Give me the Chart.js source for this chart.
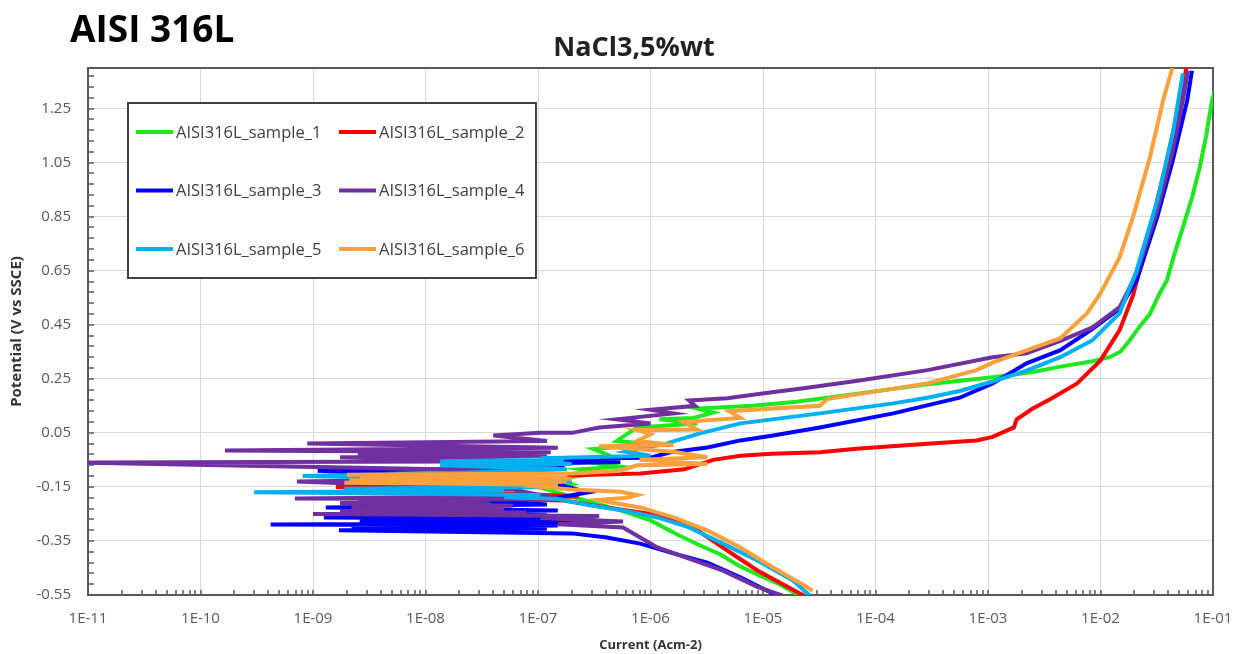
<!DOCTYPE html>
<html>
<head>
<meta charset="utf-8">
<title>AISI 316L - NaCl3,5%wt</title>
<script src="https://cdn.jsdelivr.net/npm/chart.js@4.4.0/dist/chart.umd.min.js"></script>
<style>
  body { margin: 0; background: #fff; }
  #wrap { position: relative; width: 1236px; height: 654px; }
  #mainTitle { position: absolute; left: 70px; top: 9px; font: bold 37px/1 'Open Sans', sans-serif; color: #000; white-space: nowrap; }
  #subTitle { position: absolute; left: 634px; top: 32px; transform: translateX(-50%); font: bold 27px/1 'Open Sans', sans-serif; color: #222; white-space: nowrap; }
</style>
</head>
<body>
<div id="wrap">
  <canvas id="polCurve" width="1236" height="654"></canvas>
  <div id="mainTitle">AISI 316L</div>
  <div id="subTitle">NaCl3,5%wt</div>
</div>
<script>
"use strict"

const sampleLabels = ['AISI316L_sample_1', 'AISI316L_sample_2', 'AISI316L_sample_3',
    'AISI316L_sample_4', 'AISI316L_sample_5', 'AISI316L_sample_6'];
const sampleColors = ['#1ee81e', '#ff0000', '#0000ff', '#7030a0', '#00b0f0', '#faa03c'];

const xTickLabels = ['1E-11', '1E-10', '1E-09', '1E-08', '1E-07', '1E-06', '1E-05', '1E-04', '1E-03', '1E-02', '1E-01'];
const yTickLabels = ['-0.55', '-0.35', '-0.15', '0.05', '0.25', '0.45', '0.65', '0.85', '1.05', '1.25'];

// current (A/cm2) and potential (V vs SSCE), cathodic end first
const s1Current = [2.1e-5, 1.4e-5, 9.3e-6, 6.0e-6, 4.2e-6, 2.7e-6, 1.8e-6, 1.0e-6, 5.4e-7, 2.9e-7, 1.6e-7, 1.1e-7,
    2.0e-7, 1.5e-7, 3.5e-7, 2.35e-7, 5.4e-7, 3.0e-7, 4.1e-7, 3.1e-7, 6.2e-7, 9.0e-7, 5.0e-7, 7.6e-7, 2.6e-6, 1.2e-6,
    2.4e-6, 3.6e-6, 2.6e-6, 8.1e-6, 2.0e-5, 7.2e-5, 2.9e-4, 1.1e-3, 2.5e-3, 4.4e-3, 8.5e-3, 1.2e-2, 1.5e-2, 1.8e-2,
    2.2e-2, 2.75e-2, 3.3e-2, 3.9e-2, 4.6e-2, 5.4e-2, 6.5e-2, 7.6e-2, 8.7e-2, 9.8e-2, 1.1e-1];
const s1Potential = [-0.552, -0.51, -0.478, -0.44, -0.40, -0.365, -0.33, -0.274, -0.237, -0.205, -0.175, -0.155,
    -0.14, -0.12, -0.10, -0.085, -0.075, -0.06, -0.03, -0.01, 0.0, 0.01, 0.02, 0.07, 0.085, 0.10,
    0.105, 0.125, 0.14, 0.15, 0.165, 0.196, 0.23, 0.256, 0.275, 0.295, 0.315, 0.33, 0.35, 0.39,
    0.44, 0.49, 0.56, 0.615, 0.72, 0.81, 0.92, 1.03, 1.15, 1.28, 1.35];

const s2Current = [2.3e-5, 1.5e-5, 9.0e-6, 5.0e-6, 2.6e-6, 1.6e-6, 1.0e-6, 4.1e-7, 1.7e-7, 5.0e-8, 2.3e-7, 1.6e-9,
    1.5e-7, 8.0e-8, 1.8e-7, 2.0e-7, 8.1e-7, 2.0e-6, 3.6e-6, 6.3e-6, 1.2e-5, 3.2e-5, 7.2e-5, 2.9e-4, 7.9e-4,
    1.1e-3, 1.5e-3, 1.7e-3, 1.8e-3, 2.5e-3, 3.6e-3, 6.2e-3, 1.0e-2, 1.48e-2, 1.95e-2, 2.75e-2, 3.9e-2, 5.1e-2, 5.8e-2];
const s2Potential = [-0.552, -0.51, -0.46, -0.39, -0.31, -0.275, -0.25, -0.226, -0.20, -0.196, -0.185, -0.15,
    -0.145, -0.128, -0.12, -0.107, -0.10, -0.085, -0.05, -0.035, -0.027, -0.022, -0.008, 0.01, 0.022,
    0.035, 0.06, 0.07, 0.10, 0.14, 0.175, 0.233, 0.318, 0.43, 0.56, 0.80, 1.06, 1.28, 1.40];

const s3Current = [1.35e-5, 1.1e-5, 6.3e-6, 3.2e-6, 1.6e-6, 8.1e-7, 4.1e-7, 2.0e-7, 1.7e-9, 1.2e-7, 2.2e-9, 1.5e-7,
    4.2e-10, 2.35e-7, 2.6e-9, 1.8e-7, 1.3e-8, 1.5e-7, 1.25e-9, 1.2e-7, 3.0e-9, 1.5e-7, 1.3e-9, 1.2e-7, 2.1e-8,
    1.5e-7, 2.8e-7, 1.2e-7, 1.1e-9, 1.5e-7, 1.8e-7, 5.4e-7, 1.05e-7, 1.0e-6, 1.5e-6, 3.2e-6, 6.3e-6, 1.23e-5,
    3.2e-5, 1.44e-4, 5.6e-4, 1.1e-3, 2.2e-3, 4.4e-3, 8.5e-3, 1.48e-2, 2.1e-2, 3.2e-2, 4.4e-2, 5.9e-2, 6.5e-2];
const s3Potential = [-0.552, -0.535, -0.485, -0.43, -0.396, -0.36, -0.337, -0.322, -0.31, -0.305, -0.298, -0.293,
    -0.289, -0.284, -0.278, -0.274, -0.272, -0.268, -0.263, -0.255, -0.245, -0.237, -0.226, -0.215, -0.196,
    -0.19, -0.17, -0.13, -0.09, -0.08, -0.062, -0.058, -0.046, -0.042, -0.022, -0.004, 0.022, 0.04,
    0.07, 0.122, 0.18, 0.233, 0.307, 0.356, 0.435, 0.51, 0.615, 0.85, 1.06, 1.28, 1.39];

const s4Current = [1.5e-5, 8.9e-6, 4.4e-6, 2.2e-6, 1.15e-6, 8.1e-7, 5.7e-7, 1.5e-7, 5.7e-7, 1.05e-7, 3.5e-7, 1.0e-9,
    7.9e-8, 1.74e-9, 5.0e-8, 2.2e-9, 6.0e-8, 1.74e-9, 3.7e-8, 2.5e-9, 9.0e-8, 6.9e-10, 1.2e-7, 6.0e-8, 7.2e-10,
    4.0e-8, 6.0e-8, 8.0e-12, 1.2e-7, 1.74e-9, 1.2e-7, 2.5e-9, 1.3e-7, 1.65e-10, 1.5e-7, 8.9e-10, 1.2e-7, 4.0e-8,
    1.05e-7, 2.0e-7, 3.5e-7, 1.0e-6, 5.0e-7, 1.6e-6, 1.0e-6, 2.5e-6, 2.2e-6, 4.8e-6, 1.2e-5, 2.3e-5, 7.2e-5,
    2.9e-4, 1.1e-3, 2.2e-3, 4.4e-3, 8.5e-3, 1.48e-2, 2.1e-2, 3.2e-2, 4.4e-2, 5.4e-2, 6.0e-2];
const s4Potential = [-0.552, -0.52, -0.46, -0.415, -0.374, -0.337, -0.30, -0.288, -0.278, -0.265, -0.258, -0.25,
    -0.245, -0.24, -0.232, -0.226, -0.22, -0.21, -0.205, -0.2, -0.196, -0.193, -0.185, -0.16, -0.13,
    -0.12, -0.09, -0.06, -0.055, -0.04, -0.035, -0.03, -0.022, -0.015, -0.005, 0.011, 0.02, 0.04,
    0.05, 0.05, 0.07, 0.085, 0.10, 0.122, 0.135, 0.15, 0.17, 0.178, 0.20, 0.215, 0.244,
    0.282, 0.33, 0.344, 0.39, 0.44, 0.515, 0.64, 0.874, 1.096, 1.28, 1.39];

const s5Current = [2.6e-5, 1.85e-5, 8.9e-6, 4.4e-6, 2.2e-6, 1.15e-6, 5.7e-7, 2.9e-7, 1.5e-7, 5.0e-8, 1.05e-7, 3.0e-10,
    5.0e-8, 1.9e-9, 1.5e-7, 4.0e-8, 2.0e-7, 8.1e-10, 1.35e-8, 1.8e-7, 1.35e-8, 2.0e-7, 1.35e-8, 1.7e-7, 1.05e-7,
    1.0e-6, 6.0e-7, 1.4e-6, 2.75e-6, 6.3e-6, 3.2e-5, 1.44e-4, 2.9e-4, 5.6e-4, 1.1e-3, 2.2e-3, 4.4e-3, 8.5e-3,
    1.48e-2, 2.1e-2, 3.2e-2, 4.4e-2, 5.4e-2];
const s5Potential = [-0.552, -0.496, -0.422, -0.36, -0.30, -0.263, -0.237, -0.218, -0.195, -0.188, -0.18, -0.17,
    -0.163, -0.157, -0.15, -0.14, -0.13, -0.11, -0.10, -0.085, -0.07, -0.065, -0.055, -0.05, -0.044,
    -0.035, -0.02, 0.011, 0.048, 0.085, 0.122, 0.159, 0.18, 0.205, 0.24, 0.28, 0.33, 0.393,
    0.493, 0.652, 0.91, 1.16, 1.38];

const s6Current = [2.75e-5, 2.45e-5, 1.23e-5, 6.3e-6, 3.2e-6, 1.6e-6, 8.1e-7, 4.1e-7, 3.5e-7, 6.2e-7, 7.6e-7, 5.4e-7,
    2.0e-7, 1.05e-7, 1.5e-7, 1.9e-9, 1.8e-7, 2.1e-9, 2.0e-7, 2.6e-9, 1.8e-7, 2.0e-9, 2.0e-7, 5.4e-7, 7.6e-7,
    3.2e-6, 8.0e-7, 3.2e-6, 1.6e-6, 3.5e-7, 1.6e-6, 7.6e-7, 1.0e-6, 7.6e-7, 2.6e-6, 1.95e-6, 6.3e-6, 5.0e-6,
    3.2e-5, 3.7e-5, 2.9e-4, 7.9e-4, 1.1e-3, 2.2e-3, 4.4e-3, 7.6e-3, 1.0e-2, 1.48e-2, 1.95e-2, 2.75e-2,
    3.6e-2, 4.35e-2];
const s6Potential = [-0.535, -0.52, -0.448, -0.374, -0.311, -0.263, -0.226, -0.205, -0.198, -0.19, -0.18, -0.168,
    -0.16, -0.15, -0.142, -0.135, -0.13, -0.125, -0.12, -0.115, -0.11, -0.105, -0.10, -0.09, -0.07,
    -0.065, -0.05, -0.04, -0.02, 0.0, 0.005, 0.02, 0.045, 0.06, 0.062, 0.09, 0.105, 0.13,
    0.15, 0.175, 0.233, 0.282, 0.31, 0.355, 0.40, 0.493, 0.567, 0.70, 0.85, 1.07,
    1.28, 1.40];

const currents = [s1Current, s2Current, s3Current, s4Current, s5Current, s6Current];
const potentials = [s1Potential, s2Potential, s3Potential, s4Potential, s5Potential, s6Potential];

const datasets = sampleLabels.map((label, i) => ({
    label: label,
    data: currents[i].map((c, j) => ({x: c, y: potentials[i][j]})),
    borderColor: sampleColors[i],
    backgroundColor: sampleColors[i],
    borderWidth: 4,
    pointRadius: 0,
    showLine: true,
    tension: 0,
    order: sampleLabels.length - 1 - i
}));

// 1..9 per decade on the current axis
function buildCurrentTicks(scale) {
    const ticks = [];
    for (let k = 0; k < xTickLabels.length - 1; k++) {
        const decade = Number(xTickLabels[k].replace('E', 'e'));
        for (let m = 1; m <= 9; m++) {
            ticks.push({value: m * decade});
        }
    }
    ticks.push({value: Number(xTickLabels[xTickLabels.length - 1].replace('E', 'e'))});
    scale.ticks = ticks;
}

// five minor steps between labelled potentials
function buildPotentialTicks(scale) {
    const base = yTickLabels.map(Number);
    const step = (base[1] - base[0]) / 5;
    const ticks = [];
    for (let k = 0; ; k++) {
        const v = base[0] + k * step;
        if (v > scale.max + 1e-9) break;
        ticks.push({value: Number(v.toFixed(4))});
    }
    scale.ticks = ticks;
}

const plotFrame = {
    id: 'plotFrame',
    beforeDatasetsDraw(chart) {
        const {ctx, chartArea: a, scales: {x, y}} = chart;
        ctx.save();
        ctx.strokeStyle = '#595959';
        ctx.lineWidth = 1.5;
        ctx.beginPath();
        y.ticks.forEach(t => {
            const py = Math.round(y.getPixelForValue(t.value));
            ctx.moveTo(a.left, py);
            ctx.lineTo(a.left + 6, py);
        });
        x.ticks.forEach(t => {
            const px = Math.round(x.getPixelForValue(t.value));
            ctx.moveTo(px, a.bottom);
            ctx.lineTo(px, a.bottom - 5);
        });
        ctx.stroke();
        ctx.lineWidth = 2;
        ctx.strokeRect(a.left, a.top, a.right - a.left, a.bottom - a.top);
        ctx.restore();
    }
};

const boxLegend = {
    id: 'boxLegend',
    afterDatasetsDraw(chart) {
        const ctx = chart.ctx;
        ctx.save();
        ctx.fillStyle = '#ffffff';
        ctx.fillRect(128, 103, 408, 175);
        ctx.strokeStyle = '#404040';
        ctx.lineWidth = 2;
        ctx.strokeRect(128, 103, 408, 175);
        ctx.font = '16.5px "Open Sans"';
        ctx.textBaseline = 'middle';
        chart.data.datasets.forEach((ds, i) => {
            const x0 = (i % 2) ? 339 : 136;
            const yy = 132 + Math.floor(i / 2) * 58.5;
            ctx.strokeStyle = ds.borderColor;
            ctx.lineWidth = 4;
            ctx.beginPath();
            ctx.moveTo(x0, yy);
            ctx.lineTo(x0 + 37, yy);
            ctx.stroke();
            ctx.fillStyle = '#404040';
            ctx.fillText(ds.label, x0 + 40, yy + 1);
        });
        ctx.restore();
    }
};

Chart.defaults.font.family = "'Open Sans', sans-serif";

const config = {
    type: 'scatter',
    data: {datasets: datasets},
    options: {
        responsive: false,
        animation: false,
        layout: {padding: {top: 68, right: 23, bottom: 0, left: 0}},
        plugins: {
            legend: {display: false},
            title: {display: false},
            tooltip: {enabled: false}
        },
        scales: {
            x: {
                type: 'logarithmic',
                min: 1e-11,
                max: 1e-1,
                afterBuildTicks: buildCurrentTicks,
                afterFit: scale => {
                    scale.height = 59;
                    scale.paddingLeft = 0;
                    scale.paddingRight = 0;
                },
                border: {display: false},
                grid: {
                    drawTicks: false,
                    color: c => (c.index % 9 === 0) ? '#d9d9d9' : 'rgba(0,0,0,0)'
                },
                ticks: {
                    autoSkip: false,
                    maxRotation: 0,
                    padding: 15,
                    color: '#595959',
                    font: {size: 15},
                    callback: (v, i) => (i % 9 === 0) ? xTickLabels[i / 9] : ''
                },
                title: {
                    display: true,
                    text: 'Current (Acm-2)',
                    color: '#333333',
                    font: {size: 13, weight: 'bold'},
                    padding: {top: 0, bottom: 1}
                }
            },
            y: {
                min: -0.55,
                max: 1.40,
                afterBuildTicks: buildPotentialTicks,
                afterFit: scale => { scale.width = 88; },
                border: {display: false},
                grid: {
                    drawTicks: false,
                    color: c => (c.index % 5 === 0) ? '#d9d9d9' : 'rgba(0,0,0,0)'
                },
                ticks: {
                    autoSkip: false,
                    padding: 17,
                    color: '#595959',
                    font: {size: 15},
                    callback: (v, i) => (i % 5 === 0) ? yTickLabels[i / 5] : ''
                },
                title: {
                    display: true,
                    text: 'Potential (V vs SSCE)',
                    color: '#333333',
                    font: {size: 15, weight: 'bold'},
                    padding: {top: 8, bottom: 0}
                }
            }
        }
    },
    plugins: [plotFrame, boxLegend]
};

const canvas = document.getElementById('polCurve').getContext('2d');
const chart1 = new Chart(canvas, config);
</script>
</body>
</html>
